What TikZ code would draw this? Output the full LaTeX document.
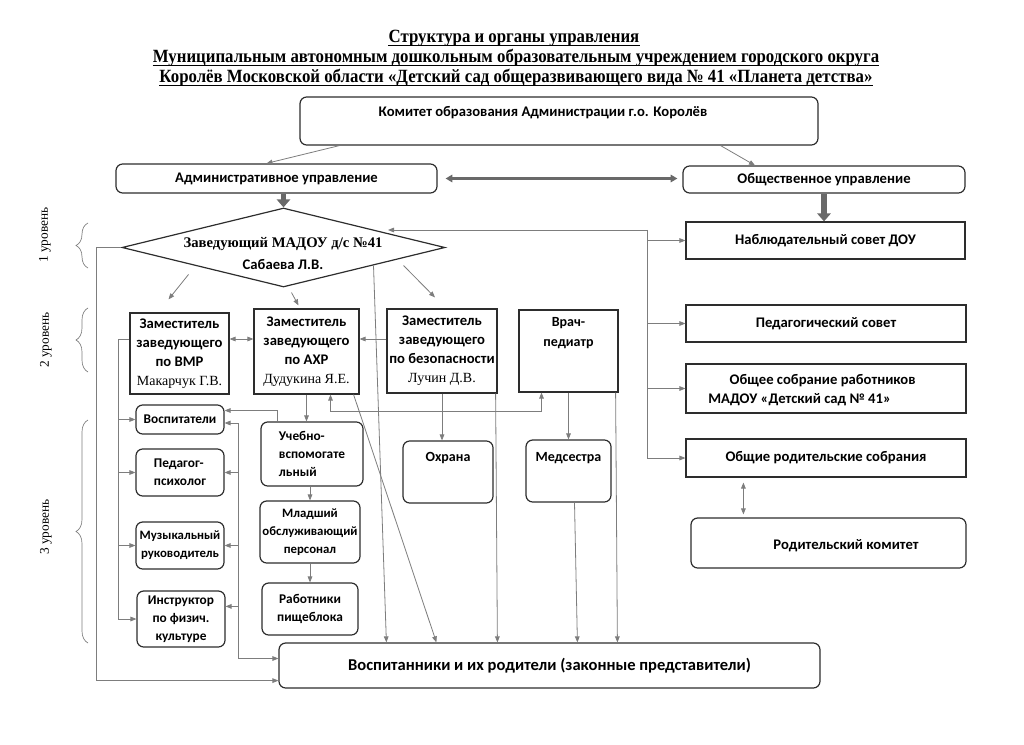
\documentclass[tikz,border=0pt]{standalone}
\usepackage{fontspec}
\setmainfont{Liberation Serif}
\setsansfont{Carlito}
\newfontfamily\headfont[FakeStretch=0.9]{Liberation Serif}
\usetikzlibrary{shapes.geometric,arrows.meta,decorations.pathreplacing,calc,positioning}
\definecolor{framecol}{RGB}{45,45,45}
\definecolor{wirecol}{RGB}{125,125,125}
\definecolor{fatcol}{RGB}{105,105,105}
\newcommand\fio[1]{{\rmfamily\mdseries\fontsize{10.5}{13}\selectfont #1}}
\tikzset{
  wh/.style 2 args={minimum width=#1*0.75pt,minimum height=#2*0.75pt},
  sbox/.style={draw=framecol,line width=0.9pt,inner sep=1pt,align=center,
    font=\sffamily\bfseries\fontsize{11}{14.2}\selectfont},
  rbox/.style={sbox,rounded corners=5pt},
  staff/.style={rbox,font=\sffamily\bfseries\fontsize{10}{13.5}\selectfont},
  txt/.style={inner sep=0pt,align=center,font=\sffamily\bfseries\fontsize{11}{14}\selectfont},
  wire/.style={draw=wirecol,line width=0.6pt},
  conn/.style={wire,-{Triangle[length=4.5pt,width=3.5pt]}},
  biconn/.style={wire,{Triangle[length=4.5pt,width=3.5pt]}-{Triangle[length=4.5pt,width=3.5pt]}},
  fatarr/.style={draw=fatcol,line width=4pt,-{Triangle[length=6pt,width=10pt]}},
  fatdbl/.style={draw=fatcol,line width=2pt,{Triangle[length=5pt,width=5.5pt]}-{Triangle[length=5pt,width=5.5pt]}},
  lvltext/.style={rotate=90,font=\fontsize{10}{12}\selectfont},
  lbrace/.style={draw=wirecol,line width=0.5pt,decorate,decoration={brace,amplitude=9pt}},
  headline/.style={inner sep=0pt,font=\headfont\bfseries\fontsize{14}{16}\selectfont},
  headrule/.style={draw=black,line width=0.7pt}
}
\begin{document}
\begin{tikzpicture}[x=0.75pt,y=0.75pt,yscale=-1,xscale=1]
\useasboundingbox (0,0) rectangle (1024,745);

% Title
\node[headline] (head1) at (514,38) {Структура и органы управления};
\node[headline] (head2) at (516,58) {Муниципальным автономным дошкольным образовательным учреждением городского округа};
\node[headline] (head3) at (516,78) {Королёв Московской области «Детский сад общеразвивающего вида № 41 «Планета детства»};
\foreach \h in {head1,head2,head3}
  \draw[headrule] ($(\h.base west)+(0,3)$) -- ($(\h.base east)+(0,3)$);

% Top level
\node[rbox,wh={518}{48}] (kom) at (559,121) {};
\node[txt] (komt) at (543,113) {Комитет образования Администрации г.о. Королёв};
\node[rbox,wh={321}{29}] (adm) at (276.5,178.5) {Административное управление};
\node[rbox,wh={282}{27}] (obsh) at (824,179.5) {Общественное управление};
\node[diamond,draw=framecol,line width=0.9pt,inner sep=0pt,wh={323}{79}] (zav) at (283.5,247.5) {};
\node[txt,font=\sffamily\bfseries\fontsize{11}{16.5}\selectfont] (zavt) at (283,254) {{\rmfamily Заведующий МАДОУ д/с №41}\\Сабаева Л.В.};
\node[sbox,wh={279}{37}] (nab) at (825.5,240.5) {Наблюдательный совет ДОУ};

% Deputies
\node[sbox,wh={99}{81}] (vmr) at (179.5,353.5) {Заместитель\\заведующего\\по ВМР\\\fio{Макарчук Г.В.}};
\node[sbox,wh={105}{85}] (axr) at (306.5,351.5) {Заместитель\\заведующего\\по АХР\\\fio{Дудукина Я.Е.}};
\node[sbox,wh={110}{84}] (bez) at (442,351) {Заместитель\\заведующего\\по безопасности\\\fio{Лучин Д.В.}};
\node[sbox,wh={99}{82}] (vrach) at (568.5,351) {};
\node[txt,font=\sffamily\bfseries\fontsize{10.5}{14.5}\selectfont] (vracht) at (568.5,333) {Врач-\\педиатр};

% Councils
\node[sbox,wh={280}{37}] (ped) at (826,323.5) {Педагогический совет};
\node[sbox,wh={280}{49}] (sobr) at (826,388.5) {};
\node[txt,align=left] (sobrt) at (812,390) {\hspace*{16pt}Общее собрание работников\\МАДОУ «Детский сад № 41»};
\node[sbox,wh={280}{38}] (rod) at (826,458) {Общие родительские собрания};
\node[rbox,wh={275}{50}] (rodkom) at (828.5,543) {};
\node[txt] (rodkomt) at (846,546) {Родительский комитет};

% Staff
\node[staff,wh={88}{29}] (vospit) at (180,419.5) {Воспитатели};
\node[staff,wh={88}{47},align=left] (psych) at (180,472.5) {Педагог-\\психолог};
\node[staff,wh={88}{47},font=\sffamily\bfseries\fontsize{9.6}{13.5}\selectfont] (muz) at (180,545.5) {Музыкальный\\руководитель};
\node[staff,wh={88}{56}] (instr) at (181,619) {Инструктор\\по физич.\\культуре};
\node[staff,wh={102}{64},align=left] (ucheb) at (312,454) {Учебно-\\вспомогате\\льный};
\node[staff,wh={100}{62},font=\sffamily\bfseries\fontsize{9.6}{13.5}\selectfont] (mlad) at (310,532) {Младший\\обслуживающий\\персонал};
\node[staff,wh={96}{52}] (rabot) at (310,609) {Работники\\пищеблока};
\node[staff,wh={90}{62}] (ohr) at (448,472) {};
\node[txt,font=\sffamily\bfseries\fontsize{10.5}{14}\selectfont] (ohrt) at (448,458) {Охрана};
\node[staff,wh={85}{62}] (med) at (568.5,471) {};
\node[txt,font=\sffamily\bfseries\fontsize{10.5}{14}\selectfont] (medt) at (568.5,458) {Медсестра};
\node[rbox,wh={541}{45},font=\sffamily\bfseries\fontsize{12.4}{14}\selectfont] (pupils) at (549.5,665.5) {Воспитанники и их родители (законные представители)};

% Levels
\node[lvltext] (lev1) at (45,235) {1 уровень};
\node[lvltext] (lev2) at (46,340) {2 уровень};
\node[lvltext] (lev3) at (46,527) {3 уровень};
\draw[lbrace] (88,268) -- (88,223);
\draw[lbrace] (88,372) -- (88,308);
\draw[lbrace] (88,643) -- (88,420);

% Helper points
\coordinate (row) at (0,339);
\coordinate (lbus) at (118,339);
\coordinate (mbus) at (238,423);
\coordinate (rbus) at (647,230);
\coordinate (ibr) at ($(instr.north east)+(0,16)$);

% Top connectors
\draw[conn] ($(kom.south west)+(40,0)$) -- ($(adm.north)+(-10,0)$);
\draw[conn] ($(kom.south east)+(-98,0)$) -- ($(obsh.north)+(-69,0)$);
\draw[fatdbl] ($(adm.east)+(8,0)$) -- ($(adm.east -| obsh.west)+(-5,0)$);
\draw[fatarr] (zav.north |- adm.south) -- (zav.north);
\draw[fatarr] (obsh.south) -- (obsh.south |- nab.north);

% Head to deputies
\draw[conn] ($(zav.center)+(-95,27)$) -- ($(vmr.north)+(-11,-13)$);
\draw[conn] ($(zav.south)+(8,5)$) -- ($(axr.north)+(-8,-3)$);
\draw[conn] ($(zav.center)+(120,18)$) -- ($(bez.north)+(-7,-11)$);
\draw[conn] (zav.west) -- ++(-25,0) |- ($(pupils.south west)+(0,-8)$);
\draw[conn] ($(zav.center)+(90,18)$) -- ($(pupils.north west)+(108,0)$);

% Right bus
\draw[conn] (rbus) -- ++(-259,0);
\draw[wire] (rbus) -- (rbus |- rod.west);
\foreach \n in {nab,ped,sobr,rod}
  \draw[conn] (rbus |- \n.west) -- (\n.west);
\draw[biconn] ($(rod.south west)+(58,5)$) -- ($(rodkom.north west)+(53,-3)$);

% Deputies row
\draw[biconn] (vmr.east |- row) -- (axr.west |- row);
\draw[conn] (bez.west |- row) -- (axr.east |- row);

% Left buses
\draw[wire] (vmr.west |- row) -- (lbus) -- (lbus |- instr.west);
\foreach \n in {vospit,psych,muz,instr}
  \draw[conn] (lbus |- \n.west) -- (\n.west);
\draw[conn] (mbus) -- (mbus -| vospit.east);
\foreach \n in {psych,muz}
  \draw[conn] (mbus |- \n.east) -- (\n.east);
\draw[conn] (mbus |- ibr) -- (ibr);
\draw[conn] (mbus) |- ($(pupils.west)+(0,-7)$);

% AХР branch
\draw[conn] ($(ucheb.north west)+(17,0)$) |- ($(vospit.east)+(0,-9)$);
\draw[conn] (axr.south) -- (axr.south |- ucheb.north);
\draw[conn] (ucheb.south -| mlad.north) -- (mlad.north);
\draw[conn] (mlad.south) -- (rabot.north);
\draw[biconn] ($(axr.south)+(24,0)$) -- ++(0,17) -| ($(vrach.south)+(-27,0)$);
\draw[conn] ($(axr.south east)+(-6,0)$) -- ($(pupils.north west)+(158,0)$);

% Safety and medical
\draw[conn] (bez.south) -- (bez.south |- ohr.north);
\draw[conn] ($(bez.south east)+(-2,0)$) -- ($(pupils.north west)+(219,0)$);
\draw[conn] (vrach.south) -- (vrach.south |- med.north);
\draw[conn] ($(med.south)+(6,0)$) -- ($(pupils.north west)+(299,0)$);
\draw[conn] ($(vrach.south east)+(-3,0)$) -- ($(pupils.north west)+(339,0)$);

\end{tikzpicture}
\end{document}
